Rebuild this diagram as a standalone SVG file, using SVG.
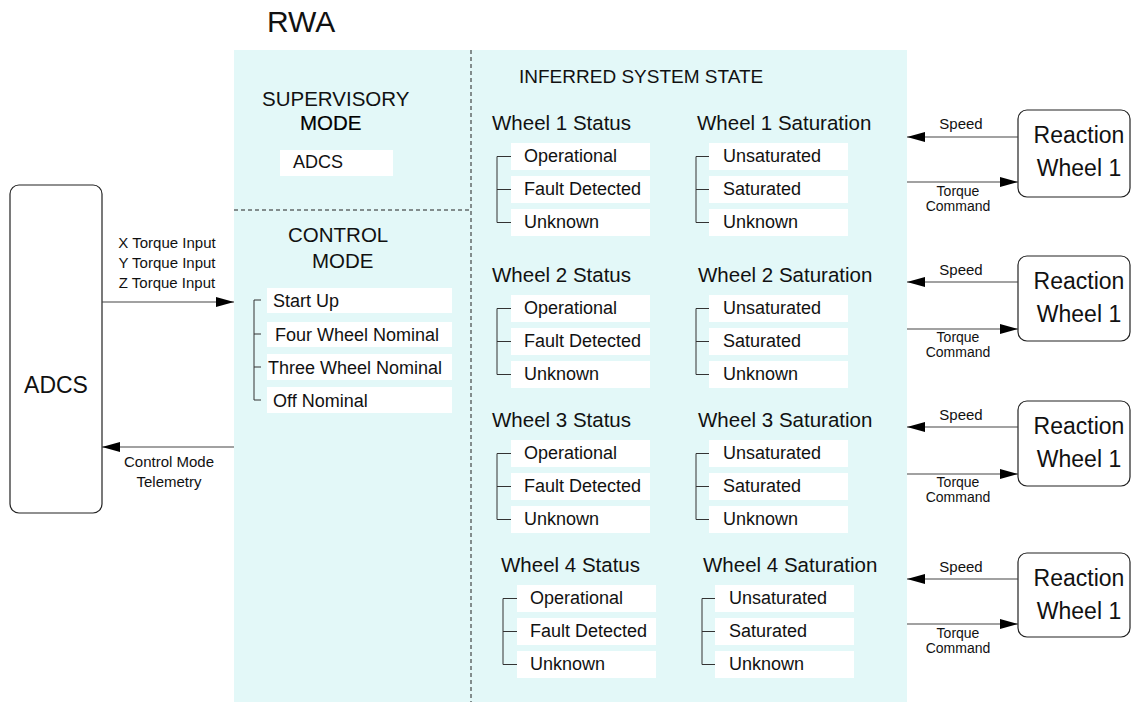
<svg xmlns="http://www.w3.org/2000/svg" width="1133" height="702" viewBox="0 0 1133 702">
<defs>
<style>
text{font-family:"Liberation Sans",Arial,sans-serif;fill:#111}
.t30{font-size:30px}.h{font-size:20.5px}.it{font-size:18px}.sm{font-size:15px}.tc{font-size:14px}.big{font-size:23px}
.box{fill:#fff}
.br{fill:none;stroke:#333;stroke-width:1}
.ln{fill:none;stroke:#444;stroke-width:1.2}
.dash{fill:none;stroke:#222;stroke-width:1;stroke-dasharray:4 3}
.node{fill:#fff;stroke:#222;stroke-width:1.2}
</style>
<marker id="ah" viewBox="0 0 18 10" refX="18" refY="5" markerWidth="18" markerHeight="10" markerUnits="userSpaceOnUse" orient="auto">
<path d="M0,0 L18,5 L0,10 Z" fill="#000"/>
</marker>
<g id="statusList">
<rect class="box" x="511" y="0" width="139" height="27"/>
<rect class="box" x="511" y="33" width="139" height="27"/>
<rect class="box" x="511" y="66" width="139" height="27"/>
<path class="br" d="M511,13.5 H497 V79.5 H511 M497,46.5 H511"/>
<text class="it" x="524" y="19">Operational</text>
<text class="it" x="524" y="52">Fault Detected</text>
<text class="it" x="524" y="85">Unknown</text>
</g>
<g id="satList">
<rect class="box" x="709" y="0" width="139" height="27"/>
<rect class="box" x="709" y="33" width="139" height="27"/>
<rect class="box" x="709" y="66" width="139" height="27"/>
<path class="br" d="M709,13.5 H696 V79.5 H709 M696,46.5 H709"/>
<text class="it" x="723" y="19">Unsaturated</text>
<text class="it" x="723" y="52">Saturated</text>
<text class="it" x="723" y="85">Unknown</text>
</g>
</defs>
<rect width="1133" height="702" fill="#fff"/>
<g id="rwa">
<rect x="234" y="50" width="673" height="652" fill="#e3f8f8"/>
<text class="t30" x="267" y="32">RWA</text>
<path class="dash" d="M471,50 V702"/>
<path class="dash" d="M234,210 H471"/>
</g>
<g id="supervisory">
<text class="h" x="262" y="106">SUPERVISORY</text>
<text class="h" x="300" y="130" style="fill:#000;stroke:#000;stroke-width:0.2">MODE</text>
<rect class="box" x="280" y="150" width="113" height="26"/>
<text class="it" x="293" y="168">ADCS</text>
</g>
<g id="controlMode">
<text class="h" x="288" y="242">CONTROL</text>
<text class="h" x="312" y="268">MODE</text>
<rect class="box" x="267" y="288" width="185" height="25"/>
<rect class="box" x="267" y="322" width="185" height="25"/>
<rect class="box" x="267" y="354" width="185" height="26"/>
<rect class="box" x="267" y="387" width="185" height="26"/>
<path class="br" d="M261,300 H254 V400 H261 M254,334 H261 M254,367 H261"/>
<text class="it" x="273" y="307">Start Up</text>
<text class="it" x="275" y="341">Four Wheel Nominal</text>
<text class="it" x="268" y="374">Three Wheel Nominal</text>
<text class="it" x="273" y="407">Off Nominal</text>
</g>
<g id="inferred">
<text x="519" y="83" style="font-size:19px">INFERRED SYSTEM STATE</text>
</g>
<g id="wheel1Status"><text class="h" x="492" y="130">Wheel 1 Status</text><use href="#statusList" transform="translate(0,143)"/></g>
<g id="wheel1Saturation"><text class="h" x="697" y="130">Wheel 1 Saturation</text><use href="#satList" transform="translate(0,143)"/></g>
<g id="wheel2Status"><text class="h" x="492" y="282">Wheel 2 Status</text><use href="#statusList" transform="translate(0,295)"/></g>
<g id="wheel2Saturation"><text class="h" x="698" y="282">Wheel 2 Saturation</text><use href="#satList" transform="translate(0,295)"/></g>
<g id="wheel3Status"><text class="h" x="492" y="427">Wheel 3 Status</text><use href="#statusList" transform="translate(0,440)"/></g>
<g id="wheel3Saturation"><text class="h" x="698" y="427">Wheel 3 Saturation</text><use href="#satList" transform="translate(0,440)"/></g>
<g id="wheel4Status"><text class="h" x="501" y="572">Wheel 4 Status</text><use href="#statusList" transform="translate(6,585)"/></g>
<g id="wheel4Saturation"><text class="h" x="703" y="572">Wheel 4 Saturation</text><use href="#satList" transform="translate(6,585)"/></g>
<g id="adcs">
<rect class="node" x="10" y="185" width="92" height="328" rx="9"/>
<text class="big" x="56" y="393" text-anchor="middle">ADCS</text>
</g>
<g id="rw1"><rect class="node" x="1018" y="110" width="112" height="87" rx="9"/><text class="big" x="1079" y="143" text-anchor="middle">Reaction</text><text class="big" x="1079" y="176" text-anchor="middle">Wheel 1</text></g>
<g id="rw2"><rect class="node" x="1018" y="256" width="112" height="85" rx="9"/><text class="big" x="1079" y="289" text-anchor="middle">Reaction</text><text class="big" x="1079" y="322" text-anchor="middle">Wheel 1</text></g>
<g id="rw3"><rect class="node" x="1018" y="401" width="112" height="85" rx="9"/><text class="big" x="1079" y="434" text-anchor="middle">Reaction</text><text class="big" x="1079" y="467" text-anchor="middle">Wheel 1</text></g>
<g id="rw4"><rect class="node" x="1018" y="553" width="112" height="84" rx="9"/><text class="big" x="1079" y="586" text-anchor="middle">Reaction</text><text class="big" x="1079" y="619" text-anchor="middle">Wheel 1</text></g>
<g id="connectors">
<path class="ln" d="M102,302 H234" marker-end="url(#ah)"/>
<text class="sm" x="167" y="248" text-anchor="middle">X Torque Input</text>
<text class="sm" x="167" y="268" text-anchor="middle">Y Torque Input</text>
<text class="sm" x="167" y="288" text-anchor="middle">Z Torque Input</text>
<path class="ln" d="M234,447 H102" marker-end="url(#ah)"/>
<text class="sm" x="169" y="467" text-anchor="middle">Control Mode</text>
<text class="sm" x="169" y="487" text-anchor="middle">Telemetry</text>

<path class="ln" d="M1018,137 H907" marker-end="url(#ah)"/>
<path class="ln" d="M907,182 H1018" marker-end="url(#ah)"/>
<text class="sm" x="961" y="129" text-anchor="middle">Speed</text>
<text class="tc" x="958" y="196" text-anchor="middle">Torque</text>
<text class="tc" x="958" y="211" text-anchor="middle">Command</text>

<path class="ln" d="M1018,282 H907" marker-end="url(#ah)"/>
<path class="ln" d="M907,329 H1018" marker-end="url(#ah)"/>
<text class="sm" x="961" y="275" text-anchor="middle">Speed</text>
<text class="tc" x="958" y="342" text-anchor="middle">Torque</text>
<text class="tc" x="958" y="357" text-anchor="middle">Command</text>

<path class="ln" d="M1018,427 H907" marker-end="url(#ah)"/>
<path class="ln" d="M907,474 H1018" marker-end="url(#ah)"/>
<text class="sm" x="961" y="420" text-anchor="middle">Speed</text>
<text class="tc" x="958" y="487" text-anchor="middle">Torque</text>
<text class="tc" x="958" y="502" text-anchor="middle">Command</text>

<path class="ln" d="M1018,579 H907" marker-end="url(#ah)"/>
<path class="ln" d="M907,624 H1018" marker-end="url(#ah)"/>
<text class="sm" x="961" y="572" text-anchor="middle">Speed</text>
<text class="tc" x="958" y="638" text-anchor="middle">Torque</text>
<text class="tc" x="958" y="653" text-anchor="middle">Command</text>
</g>
</svg>
